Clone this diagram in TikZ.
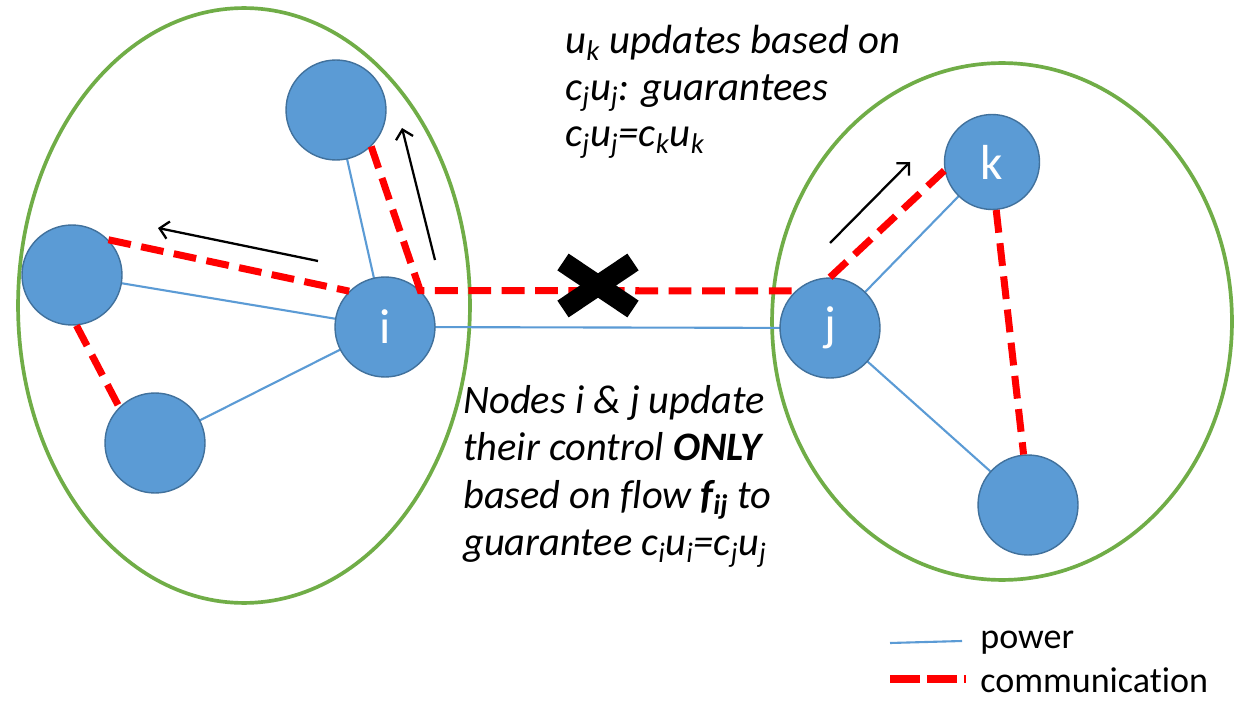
\documentclass[tikz,border=0pt]{standalone}
\usepackage{fontspec}
\setmainfont{Carlito}[Ligatures=NoCommon]
\usetikzlibrary{arrows.meta}
\definecolor{nodeblue}{HTML}{5B9BD5}
\definecolor{nodeedge}{HTML}{41719C}
\definecolor{grp}{HTML}{70AD47}
\definecolor{comm}{HTML}{FF0000}
\begin{document}
\begin{tikzpicture}[x=0.02cm,y=-0.02cm,
  agent/.style={circle,fill=nodeblue,draw=nodeedge,line width=0.8pt,minimum size=2cm,inner sep=0pt,text=white,font=\fontsize{28}{32}\selectfont},
  power/.style={draw=nodeblue,line width=1.2pt},
  commline/.style={draw=comm,line width=4pt,dash pattern=on 13pt off 6pt},
  group/.style={draw=grp,line width=2.1pt},
  flow/.style={draw=black,line width=1.3pt,-{Straight Barb[length=5pt,width=10pt]}},
  cross/.style={draw=black,line width=11.5pt},
  note/.style={align=left,inner sep=0pt,anchor=north west},
  legend/.style={anchor=west,inner sep=0pt,font=\fontsize{20.5}{24}\selectfont}]
\useasboundingbox (0,0) rectangle (1246,709);
\fill[white] (0,0) rectangle (1246,709);
% groups
\draw[group] (244,305.5) ellipse [x radius=4.52cm, y radius=5.95cm];
\draw[group] (1002,321.5) ellipse [x radius=4.6cm, y radius=5.17cm];
% node positions
\coordinate (ci) at (385,327);
\coordinate (ctl) at (336,110);
\coordinate (cl) at (72,275);
\coordinate (cbl) at (155,443);
\coordinate (cj) at (830,328);
\coordinate (ck) at (992,162);
\coordinate (cbr) at (1028,505);
% power lines
\draw[power] (ci) -- (ctl);
\draw[power] (ci) -- (cl);
\draw[power] (ci) -- (cbl);
\draw[power] (ci) -- (cj);
\draw[power] (cj) -- (ck);
\draw[power] (cj) -- (cbr);
% agents
\node[agent] (i) at (ci) {i};
\node[agent] (tl) at (ctl) {};
\node[agent] (l) at (cl) {};
\node[agent] (bl) at (cbl) {};
\node[agent] (j) at (cj) {j};
\node[agent,minimum size=1.9cm] (k) at (ck) {k};
\node[agent] (br) at (cbr) {};
% communication
\draw[commline] (tl.-46) -- (i.46) -- (j.133);
\draw[commline] (l.44) -- (i.135);
\draw[commline] (l.-85) -- (bl.135);
\draw[commline] (j.90) -- (k.190);
\draw[commline] (k.-85) -- (br.95);
% flow arrows
\coordinate (a1s) at (318,261); \coordinate (a1e) at (158,228);
\coordinate (a2s) at (435,260); \coordinate (a2e) at (402,128);
\coordinate (a3s) at (830,243); \coordinate (a3e) at (910,162);
\draw[flow] (a1s) -- (a1e);
\draw[flow] (a2s) -- (a2e);
\draw[flow] (a3s) -- (a3e);
% cross
\coordinate (x1) at (563,262); \coordinate (x2) at (633,309);
\coordinate (x3) at (633,262); \coordinate (x4) at (563,309);
\draw[cross] (x1) -- (x2);
\draw[cross] (x3) -- (x4);
% notes
\node[note,font=\itshape\fontsize{23.2}{26.5}\selectfont] (n1) at (565,25)
 {u\textsubscript{k} updates based on\\
  c\textsubscript{j}u\textsubscript{j}: guarantees\\
  c\textsubscript{j}u\textsubscript{j}=c\textsubscript{k}u\textsubscript{k}};
\node[note,font=\itshape\fontsize{23}{27}\selectfont] (n2) at (463,385)
 {Nodes i \& j update\\
  their control \textbf{ONLY}\\
  based on flow \textbf{f\textsubscript{ij}} to\\
  guarantee c\textsubscript{i}u\textsubscript{i}=c\textsubscript{j}u\textsubscript{j}};
% legend
\coordinate (pw1) at (890,643); \coordinate (pw2) at (962,641);
\coordinate (cm1) at (890,679); \coordinate (cm2) at (966,679);
\draw[power] (pw1) -- (pw2);
\draw[draw=comm,line width=4.5pt,dash pattern=on 17pt off 4pt] (cm1) -- (cm2);
\node[legend] (pwt) at (980,643) {power};
\node[legend] (cmt) at (980,680) {communication};
\end{tikzpicture}
\end{document}
